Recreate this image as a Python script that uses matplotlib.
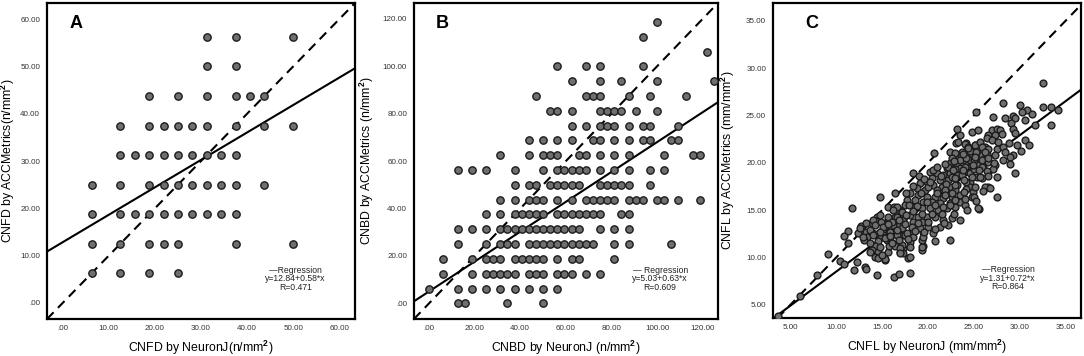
import matplotlib
matplotlib.use("Agg")
import matplotlib.pyplot as plt

plt.rcParams["font.family"] = ["Liberation Sans", "DejaVu Sans"]
plt.rcParams["mathtext.fontset"] = "custom"
plt.rcParams["mathtext.rm"] = "Liberation Sans"
plt.rcParams["mathtext.bf"] = "Liberation Sans:bold"

# ---- panel A: CNFD (rows of equal ACCMetrics value)
cnfd_acc_levels = [56.25, 50, 43.75, 37.5, 31.25, 25, 18.75, 12.5, 6.25]
cnfd_nj_rows = [
    [31.25, 37.5, 50],
    [31.25, 37.5],
    [18.75, 25, 31.25, 37.5, 40.625, 43.75],
    [12.5, 18.75, 21.875, 25, 28.125, 31.25, 37.5, 43.75, 50],
    [12.5, 15.625, 18.75, 21.875, 25, 28.125, 31.25, 34.375, 37.5],
    [6.25, 12.5, 18.75, 21.875, 25, 28.125, 31.25, 34.375, 37.5, 43.75],
    [6.25, 12.5, 15.625, 18.75, 21.875, 25, 28.125, 31.25, 34.375, 37.5],
    [6.25, 12.5, 18.75, 21.875, 25, 37.5, 50],
    [6.25, 12.5, 18.75, 25],
]

# ---- panel B: CNBD
cnbd_acc_levels = [118.75, 112.5, 106.25, 100, 93.75, 87.5, 81.25, 75, 68.75, 62.5,
                   56.25, 50, 43.75, 37.5, 31.25, 25, 18.75, 12.5, 6.25, 0]
cnbd_nj_rows = [
    [100],
    [93.75],
    [121.875],
    [56.25, 68.75, 75, 93.75],
    [62.5, 75, 84.375, 100, 125],
    [46.875, 68.75, 71.875, 75, 87.5, 96.875, 112.5],
    [53.125, 56.25, 62.5, 75, 78.125, 81.25, 84.375, 90.625, 100],
    [62.5, 68.75, 75, 78.125, 81.25, 87.5, 93.75, 96.875, 109.375],
    [43.75, 50, 56.25, 62.5, 71.875, 75, 81.25, 87.5, 93.75, 96.875, 106.25, 109.375],
    [31.25, 43.75, 50, 53.125, 56.25, 65.625, 68.75, 75, 81.25, 87.5, 103.125, 115.625, 118.75],
    [12.5, 18.75, 25, 37.5, 50, 56.25, 59.375, 62.5, 65.625, 68.75, 75, 81.25, 87.5, 96.875, 103.125],
    [37.5, 43.75, 46.875, 53.125, 56.25, 59.375, 62.5, 65.625, 75, 78.125, 81.25, 84.375, 87.5, 96.875],
    [31.25, 37.5, 43.75, 46.875, 50, 56.25, 62.5, 68.75, 71.875, 75, 78.125, 81.25, 87.5, 90.625,
     93.75, 100, 103.125, 109.375, 118.75],
    [25, 31.25, 37.5, 40.625, 43.75, 46.875, 50, 56.25, 59.375, 62.5, 65.625, 68.75, 71.875, 75,
     84.375, 87.5],
    [12.5, 18.75, 25, 31.25, 34.375, 37.5, 40.625, 43.75, 46.875, 50, 53.125, 56.25, 59.375, 62.5,
     65.625, 75, 81.25, 87.5],
    [12.5, 25, 31.25, 34.375, 37.5, 43.75, 46.875, 50, 53.125, 56.25, 59.375, 62.5, 65.625, 68.75,
     71.875, 81.25, 87.5, 106.25],
    [6.25, 18.75, 25, 28.125, 31.25, 37.5, 40.625, 43.75, 46.875, 50, 56.25, 62.5, 65.625, 81.25],
    [6.25, 18.75, 25, 28.125, 31.25, 34.375, 37.5, 43.75, 46.875, 50, 56.25, 59.375, 62.5, 68.75, 75],
    [0, 12.5, 18.75, 25, 31.25, 37.5, 43.75, 50, 56.25],
    [12.5, 15.625, 34.375, 50],
]

# ---- panel C: CNFL (NeuronJ, ACCMetrics)
cnfl_nj = [
    3.6, 6.0, 7.9, 9.1, 10.4, 10.9, 11.9, 12.3, 13.1, 13.3, 14.5, 16.3, 16.8, 18.0,
    11.7, 15.7, 16.3, 16.9, 14.5, 14.3, 13.85, 14.9, 12.7, 12.8, 12.4, 11.3, 10.9, 13.3,
    13.85, 13.4, 13.0, 11.3, 14.2, 14.9, 14.6, 14.2, 13.85, 14.6, 14.2, 14.6, 15.3, 15.7,
    15.5, 16.0, 15.8, 16.4, 15.3, 15.8, 16.3, 16.8, 17.3, 15.7, 16.2, 16.8, 17.1, 16.4,
    17.05, 17.3, 17.1,
    19.5, 19.4, 17.8, 17.3, 17.0, 17.2, 15.3, 17.5, 18.2, 18.1, 18.0, 19.5, 20.8, 22.4,
    19.4, 25.6,
    23.1, 24.2, 25.1, 25.7, 26.2, 20.7, 18.4, 16.4, 14.75,
    24.23, 24.77, 25.32, 25.87, 23.5, 22.95, 23.86, 24.59, 25.32, 26.23, 26.41,
    22.41, 23.13, 22.04, 23.5, 24.23, 24.96, 25.5, 26.05, 26.6,
    20.22, 20.95, 21.68, 22.41, 23.13, 20.4, 21.31, 22.22, 24.59, 25.32, 25.87, 24.59,
    19.13, 19.86, 20.58, 21.5, 22.41, 23.13, 18.76, 19.67, 20.95, 22.04, 22.95, 24.59,
    24.96, 26.6,
    18.03, 18.94, 19.86, 20.77, 21.68, 22.59, 23.5, 17.67, 18.58, 19.49, 20.4, 21.31,
    22.41, 24.77,
    16.58, 17.49, 18.4, 19.31, 20.22, 21.13, 22.04, 22.95, 16.21, 17.12, 23.5, 24.05, 25.5,
    14.76, 15.67, 16.58, 18.03, 18.94, 19.86, 20.77, 21.68, 22.59, 14.03, 17.3, 18.4,
    19.31, 23.5,
    13.3, 14.21, 15.12, 16.21, 17.12, 18.22, 19.13, 20.04, 21.31, 22.22, 12.57, 13.66,
    14.76, 15.85,
    12.93, 14.03, 15.3, 16.58, 17.67, 18.4, 19.49, 20.58,
    13.66, 14.76, 16.03, 16.94, 18.03, 19.31, 14.94, 16.94, 18.03, 13.66,
    32.6, 28.2, 30.1, 30.8, 30.3, 31.4, 32.6, 33.4, 34.2, 33.4, 25.3, 27.1, 28.4, 29.3,
    29.5, 29.1, 30.6, 31.7, 23.2, 24.8, 25.5, 27.0, 27.5, 27.9, 26.6, 27.3, 28.1, 29.3,
    29.5, 26.4, 27.0, 27.7, 28.8, 29.7, 30.6, 31.0, 23.5, 23.3, 24.0, 24.4, 25.1, 25.7,
    25.9, 26.6, 27.5, 28.2, 30.2, 29.3, 28.4, 22.4, 23.0, 23.7, 24.6, 25.3, 26.2, 27.3,
    28.2, 29.0, 29.0, 29.5, 22.6, 23.5, 24.2, 25.0, 25.9, 26.6, 27.3, 27.1, 22.2, 23.0,
    24.0, 25.0, 25.9, 26.4, 25.7, 24.8, 23.7, 22.6, 22.0, 23.0, 24.2, 25.1, 26.2, 26.8,
    25.0, 27.5, 21.9, 22.6,
    19.0, 19.6, 20.6, 21.0, 21.9, 22.8, 23.8, 24.4, 25.1, 23.0, 23.9, 24.2, 23.9, 21.9,
    21.0, 20.0, 19.2, 18.4, 17.6, 17.9, 18.8, 19.9, 20.8, 21.6, 22.4, 21.5, 20.4, 19.4,
    18.4, 17.6, 16.8, 16.1, 15.6, 16.6, 17.5, 18.9, 20.0, 20.8, 19.6, 18.6, 17.8, 16.9,
    15.9, 21.8, 22.8, 23.0, 24.0, 24.3, 25.2, 26.0, 26.6, 27.5, 27.2, 26.6, 25.6, 24.9,
    23.8, 22.7, 21.4, 20.2,
]
cnfl_acc = [
    3.8, 5.9, 8.2, 10.4, 9.6, 9.3, 8.7, 9.5, 9.0, 8.8, 8.1, 7.9, 8.3, 8.4,
    15.2, 15.3, 15.3, 15.0, 14.3, 13.9, 13.6, 13.8, 13.3, 12.9, 12.6, 12.8, 12.3, 12.7,
    12.6, 12.2, 11.8, 11.5, 12.5, 12.2, 11.7, 11.2, 10.8, 10.6, 10.1, 9.9, 9.7, 10.6,
    11.9, 11.6, 11.2, 11.2, 13.0, 12.7, 12.5, 12.6, 12.4, 14.0, 13.7, 13.4, 14.0, 14.3,
    14.5, 11.0, 10.6,
    11.2, 10.8, 9.9, 10.5, 10.6, 11.3, 9.8, 12.4, 12.6, 12.0, 11.6, 12.7, 11.7, 11.9,
    11.8, 15.1,
    22.1, 22.1, 21.9, 22.0, 21.7, 21.0, 18.9, 16.8, 16.4,
    21.35, 20.99, 21.17, 20.82, 20.82, 20.47, 20.29, 20.29, 20.29, 20.47, 20.99,
    19.94, 19.76, 19.41, 19.41, 19.59, 19.41, 19.76, 19.59, 19.06,
    19.06, 18.89, 18.71, 18.89, 18.71, 18.36, 18.18, 18.18, 18.89, 18.53, 18.36, 18.0,
    17.83, 18.0, 17.65, 17.48, 17.48, 17.65, 17.3, 17.13, 17.13, 16.95, 17.13, 17.48,
    16.95, 17.48,
    16.78, 16.6, 16.43, 16.43, 16.25, 16.43, 16.6, 16.07, 16.07, 15.9, 15.9, 15.72,
    15.72, 16.43,
    15.37, 15.55, 15.37, 15.2, 15.2, 15.02, 15.2, 15.37, 15.02, 14.84, 15.9, 15.55, 15.2,
    14.49, 14.31, 14.31, 14.49, 14.31, 14.31, 14.31, 13.96, 14.14, 13.96, 13.96, 13.79,
    13.79, 13.96,
    13.61, 13.43, 13.26, 13.43, 13.08, 13.26, 13.08, 13.26, 13.26, 13.43, 13.08, 12.91,
    12.73, 12.73,
    12.2, 12.38, 12.03, 12.38, 12.56, 12.2, 12.2, 12.56,
    11.5, 11.15, 11.5, 10.97, 11.15, 11.15, 10.27, 10.45, 10.1, 10.62,
    28.4, 26.3, 26.1, 25.6, 25.4, 25.2, 25.9, 25.9, 25.6, 24.0, 25.4, 24.9, 24.7, 25.0,
    24.7, 24.2, 24.5, 24.0, 23.6, 23.3, 23.5, 23.5, 23.6, 23.5, 22.9, 22.9, 23.1, 23.6,
    23.2, 22.6, 22.4, 22.2, 22.1, 21.9, 22.4, 21.9, 22.9, 22.2, 22.0, 21.7, 21.9, 22.2,
    21.7, 21.5, 21.5, 21.7, 21.3, 20.8, 21.2, 21.2, 21.0, 21.2, 21.3, 21.2, 21.2, 20.8,
    20.3, 20.6, 19.9, 18.9, 20.5, 20.3, 20.5, 20.3, 20.3, 20.1, 19.8, 19.4, 19.6, 19.4,
    19.6, 19.4, 19.6, 19.1, 18.5, 18.5, 18.7, 18.5, 17.8, 17.7, 18.0, 17.5, 17.5, 17.3,
    16.4, 16.4, 17.1, 16.8,
    18.6, 18.3, 19.3, 19.6, 19.9, 20.2, 20.9, 21.6, 20.6, 18.4, 18.2, 17.2, 16.9, 16.6,
    16.8, 17.5, 16.8, 17.6, 16.8, 15.6, 15.4, 15.9, 15.5, 15.3, 15.5, 14.6, 14.6, 14.6,
    14.9, 14.5, 14.0, 13.8, 13.5, 12.9, 13.5, 13.6, 13.7, 13.0, 12.7, 12.8, 12.0, 11.8,
    12.3, 13.6, 14.6, 16.1, 16.2, 15.0, 16.0, 17.0, 18.6, 18.5, 20.0, 20.5, 19.2, 19.8,
    19.2, 19.3, 18.6, 18.0,
]

reg_a = (12.84, 0.58, 0.471)
reg_b = (5.03, 0.63, 0.609)
reg_c = (1.31, 0.72, 0.864)


def expand(levels, rows):
    xs, ys = [], []
    for yv, row in zip(levels, rows):
        for xv in row:
            xs.append(xv)
            ys.append(yv)
    return xs, ys


a_x, a_y = expand(cnfd_acc_levels, cnfd_nj_rows)
b_x, b_y = expand(cnbd_acc_levels, cnbd_nj_rows)

fig = plt.figure(figsize=(10.84, 3.56), dpi=100)

panels = [
    dict(pos=[0.0434, 0.1039, 0.2841, 0.8876], x=a_x, y=a_y, reg=reg_a, letter="A",
         xlim=(-3.4, 63.4), ylim=(-3.4, 63.4), ticks=[0, 10, 20, 30, 40, 50, 60],
         xlab="CNFD by NeuronJ(n/mm$^\\mathbf{2}$)", ylab="CNFD by ACCMetrics(n/mm$^\\mathbf{2}$)",
         ylx=-0.127, lx=0.072, tx=0.807, dash="—Regression", ms=28),
    dict(pos=[0.3819, 0.1039, 0.2804, 0.8876], x=b_x, y=b_y, reg=reg_b, letter="B",
         xlim=(-6.6, 126.7), ylim=(-6.6, 126.7), ticks=[0, 20, 40, 60, 80, 100, 120],
         xlab="CNBD by NeuronJ (n/mm$^\\mathbf{2}$)", ylab="CNBD by ACCMetrics (n/mm$^\\mathbf{2}$)",
         ylx=-0.155, lx=0.072, tx=0.81, dash="— Regression", ms=28),
    dict(pos=[0.7131, 0.1067, 0.2841, 0.8848], x=cnfl_nj, y=cnfl_acc, reg=reg_c, letter="C",
         xlim=(3.1, 36.7), ylim=(3.6, 36.9), ticks=[5, 10, 15, 20, 25, 30, 35],
         xlab="CNFL by NeuronJ (mm/mm$^\\mathbf{2}$)", ylab="CNFL by ACCMetrics (mm/mm$^\\mathbf{2}$)",
         ylx=-0.146, lx=0.105, tx=0.763, dash="—Regression", ms=24),
]

for p in panels:
    ax = fig.add_axes(p["pos"])
    ax.scatter(p["x"], p["y"], s=p["ms"], facecolor="#6f6f6f", edgecolor="#1c1c1c",
               linewidth=1.0, zorder=3)
    a, b, r = p["reg"]
    ax.axline((0, 0), slope=1, color="black", lw=1.5, ls=(0, (4.5, 3)), zorder=2)
    ax.axline((0, a), slope=b, color="black", lw=1.5, zorder=2)
    ax.set_xlim(*p["xlim"])
    ax.set_ylim(*p["ylim"])
    labels = [".00" if t == 0 else f"{t:.2f}" for t in p["ticks"]]
    ax.set_xticks(p["ticks"])
    ax.set_xticklabels(labels)
    ax.set_yticks(p["ticks"])
    ax.set_yticklabels(labels)
    ax.tick_params(length=0, labelsize=5.8, labelcolor="#333333")
    ax.tick_params(axis="x", pad=4)
    ax.tick_params(axis="y", pad=5)
    for s in ax.spines.values():
        s.set_linewidth(1.6)
    ax.set_xlabel(p["xlab"], fontsize=8.8, va="center")
    ax.set_ylabel(p["ylab"], fontsize=8.8, va="center")
    ax.xaxis.set_label_coords(0.5, -0.092)
    ax.yaxis.set_label_coords(p["ylx"], 0.5)
    ax.text(p["lx"], 0.962, p["letter"], transform=ax.transAxes, fontsize=13,
            fontweight="bold", ha="left", va="top")
    ax.text(p["tx"], 0.127, f"{p['dash']}\ny={a:.2f}+{b:.2f}*x\nR={r:.3f}",
            transform=ax.transAxes, fontsize=6.2, ha="center", va="center",
            linespacing=0.9, color="#222222")

fig.savefig("out.png", dpi=100)
